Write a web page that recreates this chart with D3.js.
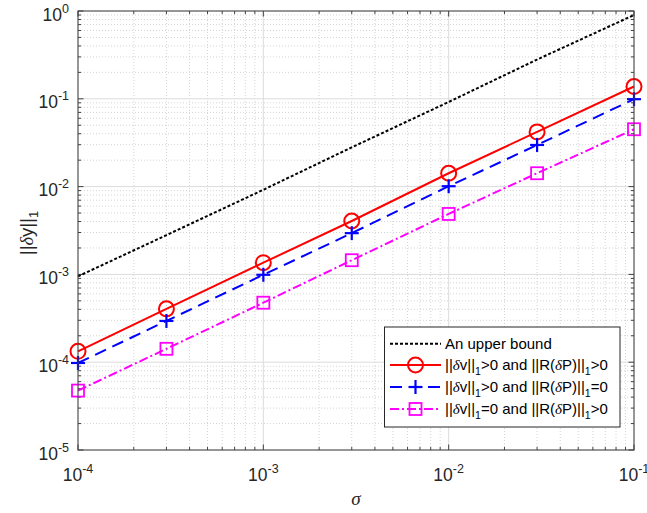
<!DOCTYPE html>
<html><head><meta charset="utf-8">
<script src="https://cdn.jsdelivr.net/npm/d3@7"></script>
<style>body{margin:0;background:#fff}svg{display:block}</style>
</head><body>
<svg id="c" width="647" height="513"></svg>
<script>
const sigma = [1e-4, 3e-4, 1e-3, 3e-3, 1e-2, 3e-2, 1e-1];
const upperBound = [9.5e-4, 2.8e-3, 9.2e-3, 2.8e-2, 9.2e-2, 0.28, 0.90];
const seriesVP = [1.33e-4, 4.05e-4, 1.36e-3, 4.06e-3, 1.42e-2, 4.2e-2, 0.138];
const seriesV0 = [9.8e-5, 2.95e-4, 9.9e-4, 2.95e-3, 1.01e-2, 2.98e-2, 0.099];
const series0P = [4.75e-5, 1.42e-4, 4.76e-4, 1.45e-3, 4.88e-3, 1.42e-2, 0.045];
const xTickExps = [-4, -3, -2, -1];
const yTickExps = [-5, -4, -3, -2, -1, 0];

const svg = d3.select("#c");
const L = 78, R = 634, T = 11, B = 450;
const x = d3.scaleLog().domain([1e-4, 1e-1]).range([L, R]);
const y = d3.scaleLog().domain([1e-5, 1]).range([B, T]);
const font = "'Liberation Sans', Arial, sans-serif";
const axisCol = "#404040";

function minors(lo, hi) {
  const out = [];
  for (let e = lo; e < hi; e++) for (let k = 2; k <= 9; k++) out.push(k * Math.pow(10, e));
  return out;
}
const xMinor = minors(-4, -1), yMinor = minors(-5, 0);
const xMajor = xTickExps.map(e => Math.pow(10, e)), yMajor = yTickExps.map(e => Math.pow(10, e));

const g = svg.append("g");
g.selectAll(".gxm").data(xMinor).join("line").attr("x1", d => x(d)).attr("x2", d => x(d)).attr("y1", T).attr("y2", B)
  .attr("stroke", "#d4d4d4").attr("stroke-dasharray", "1,2").attr("stroke-width", 1);
g.selectAll(".gym").data(yMinor).join("line").attr("y1", d => y(d)).attr("y2", d => y(d)).attr("x1", L).attr("x2", R)
  .attr("stroke", "#d4d4d4").attr("stroke-dasharray", "1,2").attr("stroke-width", 1);
g.selectAll(".gxM").data(xMajor).join("line").attr("x1", d => x(d)).attr("x2", d => x(d)).attr("y1", T).attr("y2", B)
  .attr("stroke", "#dcdcdc").attr("stroke-width", 1);
g.selectAll(".gyM").data(yMajor).join("line").attr("y1", d => y(d)).attr("y2", d => y(d)).attr("x1", L).attr("x2", R)
  .attr("stroke", "#dcdcdc").attr("stroke-width", 1);

const tk = svg.append("g").attr("stroke", axisCol).attr("stroke-width", 1);
xMajor.concat(xMinor).forEach(v => {
  const len = xMajor.includes(v) ? 5.5 : 3;
  tk.append("line").attr("x1", x(v)).attr("x2", x(v)).attr("y1", B).attr("y2", B - len);
  tk.append("line").attr("x1", x(v)).attr("x2", x(v)).attr("y1", T).attr("y2", T + len);
});
yMajor.concat(yMinor).forEach(v => {
  const len = yMajor.includes(v) ? 5.5 : 3;
  tk.append("line").attr("y1", y(v)).attr("y2", y(v)).attr("x1", L).attr("x2", L + len);
  tk.append("line").attr("y1", y(v)).attr("y2", y(v)).attr("x1", R).attr("x2", R - len);
});

svg.append("defs").append("clipPath").attr("id", "clp").append("rect")
  .attr("x", L - 10).attr("y", T - 10).attr("width", R - L + 20).attr("height", B - T + 20);
const line = d3.line().x(d => x(d[0])).y(d => y(d[1]));
const series = [
  { vals: upperBound, color: "#000000", dash: "3,2", marker: null },
  { vals: seriesVP, color: "#ff0000", dash: null, marker: "circle" },
  { vals: seriesV0, color: "#0000ff", dash: "12,7", marker: "plus" },
  { vals: series0P, color: "#ff00ff", dash: "9,3,2,3", marker: "square" }
];
const pg = svg.append("g").attr("clip-path", "url(#clp)");
function drawMarker(sel, type, cx, cy, color) {
  if (type === "circle") sel.append("circle").attr("cx", cx).attr("cy", cy).attr("r", 7.5)
    .attr("fill", "none").attr("stroke", color).attr("stroke-width", 2);
  else if (type === "plus") {
    sel.append("line").attr("x1", cx - 7).attr("x2", cx + 7).attr("y1", cy).attr("y2", cy).attr("stroke", color).attr("stroke-width", 2.2);
    sel.append("line").attr("x1", cx).attr("x2", cx).attr("y1", cy - 7).attr("y2", cy + 7).attr("stroke", color).attr("stroke-width", 2.2);
  } else if (type === "square") sel.append("rect").attr("x", cx - 6).attr("y", cy - 6).attr("width", 12).attr("height", 12)
    .attr("fill", "none").attr("stroke", color).attr("stroke-width", 1.8);
}
series.forEach(s => {
  const pts = sigma.map((v, i) => [v, s.vals[i]]);
  pg.append("path").attr("d", line(pts)).attr("fill", "none").attr("stroke", s.color)
    .attr("stroke-width", 2).attr("stroke-dasharray", s.dash);
  if (s.marker) pts.forEach(p => drawMarker(pg, s.marker, x(p[0]), y(p[1]), s.color));
});

svg.append("rect").attr("x", L).attr("y", T).attr("width", R - L).attr("height", B - T)
  .attr("fill", "none").attr("stroke", axisCol).attr("stroke-width", 1);

const tcol = "#262626";
xTickExps.forEach(e => {
  const t = svg.append("text").attr("x", x(Math.pow(10, e))).attr("y", 481).attr("text-anchor", "middle")
    .attr("font-family", font).attr("font-size", 17.5).attr("fill", tcol);
  t.append("tspan").text("10");
  t.append("tspan").attr("dy", -8).attr("font-size", 12.5).text(e === 0 ? "0" : "-" + Math.abs(e));
});
yTickExps.forEach(e => {
  const t = svg.append("text").attr("x", 69).attr("y", y(Math.pow(10, e)) + 9.5).attr("text-anchor", "end")
    .attr("font-family", font).attr("font-size", 17.5).attr("fill", tcol);
  t.append("tspan").text("10");
  t.append("tspan").attr("dy", -8).attr("font-size", 12.5).text(e === 0 ? "0" : "-" + Math.abs(e));
});

svg.append("text").attr("x", 356).attr("y", 505).attr("text-anchor", "middle")
  .attr("font-family", "'Liberation Serif', serif").attr("font-style", "italic").attr("font-size", 19).attr("fill", tcol).text("σ");
const yl = svg.append("text").attr("transform", "translate(33,233) rotate(-90)").attr("text-anchor", "middle")
  .attr("font-family", font).attr("font-size", 18.5).attr("fill", tcol);
yl.append("tspan").text("||");
yl.append("tspan").attr("font-family", "'Liberation Serif', serif").attr("font-style", "italic").text("δ");
yl.append("tspan").text("y||");
yl.append("tspan").attr("dy", 5).attr("font-size", 13).text("1");

const lg = svg.append("g");
lg.append("rect").attr("x", 384.5).attr("y", 327).attr("width", 235.5).attr("height", 100)
  .attr("fill", "#fff").attr("stroke", "#262626").attr("stroke-width", 1);
const legendLabels = [
  [["An upper bound"]],
  [["||"], ["δ", "it"], ["v||"], ["1", "sub"], [">0 and ||R("], ["δ", "it"], ["P)||"], ["1", "sub"], [">0"]],
  [["||"], ["δ", "it"], ["v||"], ["1", "sub"], [">0 and ||R("], ["δ", "it"], ["P)||"], ["1", "sub"], ["=0"]],
  [["||"], ["δ", "it"], ["v||"], ["1", "sub"], ["=0 and ||R("], ["δ", "it"], ["P)||"], ["1", "sub"], [">0"]]
];
const rowY = [343.7, 365, 387, 409];
series.forEach((s, i) => {
  const yy = rowY[i];
  lg.append("line").attr("x1", 390).attr("x2", 441).attr("y1", yy).attr("y2", yy).attr("stroke", s.color)
    .attr("stroke-width", 2).attr("stroke-dasharray", s.dash);
  if (s.marker) drawMarker(lg, s.marker, 415.5, yy, s.color);
  const t = lg.append("text").attr("x", 445).attr("y", yy + 5).attr("font-family", font).attr("font-size", 15).attr("fill", "#000");
  let shifted = false;
  legendLabels[i].forEach(part => {
    const ts = t.append("tspan").text(part[0]);
    if (part[1] === "it") ts.attr("font-family", "'Liberation Serif', serif").attr("font-style", "italic");
    if (part[1] === "sub") { ts.attr("dy", 5).attr("font-size", 10.5); shifted = true; }
    else if (shifted) { ts.attr("dy", -5); shifted = false; }
  });
});
</script>
</body></html>
